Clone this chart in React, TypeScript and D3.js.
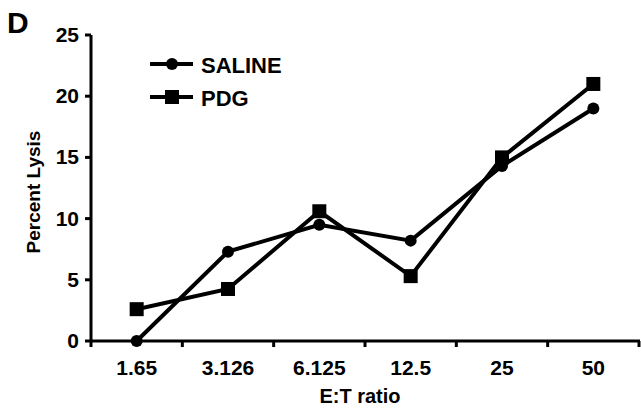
import React from 'react'
import * as d3 from 'd3'

const ratios = ['1.65', '3.126', '6.125', '12.5', '25', '50']
const saline = [0, 7.3, 9.5, 8.2, 14.3, 19.0]
const pdg = [2.6, 4.25, 10.6, 5.3, 15.0, 21.0]
const yTicks = [0, 5, 10, 15, 20, 25]

const font = 'Arial, "Liberation Sans", sans-serif'

export default function App() {
  const width = 641, height = 419
  const x = d3.scaleBand().domain(ratios).range([91, 639])
  const y = d3.scaleLinear().domain([0, 25]).range([341, 35])
  const line = d3.line<number>()
    .x((d, i) => x(ratios[i])! + x.bandwidth() / 2)
    .y(d => y(d))

  // tick positions sit on the band edges, like the original
  const xTickPos = ratios.map(r => x(r)!).concat([x.range()[1]])

  return (
    <svg width={width} height={height} style={{ position: 'absolute', left: 0, top: 0, background: '#fff' }}>
      <text x={7} y={33} fontFamily={font} fontWeight="bold" fontSize={30}>D</text>

      {/* y axis */}
      <line x1={91} x2={91} y1={y(25)} y2={y(0)} stroke="#000" strokeWidth={3} />
      {yTicks.map(t => (
        <g key={t}>
          <line x1={85} x2={91} y1={y(t)} y2={y(t)} stroke="#000" strokeWidth={3} />
          <text x={79} y={y(t) + 7} textAnchor="end" fontFamily={font} fontWeight="bold" fontSize={21}>{t}</text>
        </g>
      ))}
      <text transform="translate(40,192) rotate(-90)" textAnchor="middle" fontFamily={font} fontWeight="bold" fontSize={19}>Percent Lysis</text>

      {/* x axis */}
      <line x1={91} x2={640} y1={y(0)} y2={y(0)} stroke="#000" strokeWidth={3} />
      {xTickPos.map((p, i) => (
        <line key={i} x1={p} x2={p} y1={y(0)} y2={y(0) + 6} stroke="#000" strokeWidth={3} />
      ))}
      {ratios.map(r => (
        <text key={r} x={x(r)! + x.bandwidth() / 2} y={375} textAnchor="middle" fontFamily={font} fontWeight="bold" fontSize={21}>{r}</text>
      ))}
      <text x={360} y={403} textAnchor="middle" fontFamily={font} fontWeight="bold" fontSize={20}>E:T ratio</text>

      {/* series */}
      <path d={line(saline)!} fill="none" stroke="#000" strokeWidth={4} />
      <path d={line(pdg)!} fill="none" stroke="#000" strokeWidth={4} />
      {saline.map((v, i) => (
        <circle key={'s' + i} cx={x(ratios[i])! + x.bandwidth() / 2} cy={y(v)} r={6} fill="#000" />
      ))}
      {pdg.map((v, i) => (
        <rect key={'p' + i} x={x(ratios[i])! + x.bandwidth() / 2 - 7} y={y(v) - 7} width={14} height={14} fill="#000" />
      ))}

      {/* legend */}
      <line x1={150} x2={193} y1={64} y2={64} stroke="#000" strokeWidth={4} />
      <circle cx={172} cy={64} r={6} fill="#000" />
      <text x={201} y={73} fontFamily={font} fontWeight="bold" fontSize={22}>SALINE</text>
      <line x1={150} x2={193} y1={97} y2={97} stroke="#000" strokeWidth={4} />
      <rect x={165} y={90} width={14} height={14} fill="#000" />
      <text x={201} y={106} fontFamily={font} fontWeight="bold" fontSize={22}>PDG</text>
    </svg>
  )
}
